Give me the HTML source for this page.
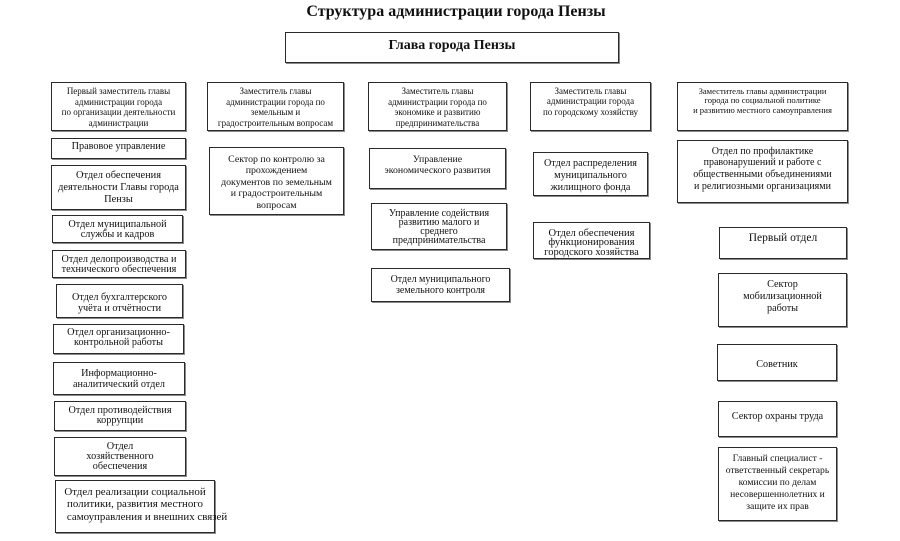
<!DOCTYPE html>
<html><head><meta charset="utf-8">
<style>
html,body{margin:0;padding:0;background:#fff;}
body{width:900px;height:541px;position:relative;overflow:hidden;font-family:"Liberation Serif","DejaVu Serif",serif;color:#111;}
.b{position:absolute;box-sizing:border-box;border:1px solid #2a2a2a;box-shadow:1px 1px 0 #8a8a8a;text-align:center;white-space:nowrap;font-size:10.2px;}
.t{position:absolute;white-space:nowrap;font-weight:bold;text-align:center;}
</style></head><body>

<div class="t" style="left:256px;top:2px;width:400px;font-size:16px;line-height:20px;">Структура администрации города Пензы</div>

<div class="b" style="left:285px;top:32px;width:334px;height:31px;"></div>
<div class="t" style="left:285px;top:38px;width:334px;font-size:14px;line-height:16px;">Глава города Пензы</div>

<!-- deputies -->
<div class="b" style="left:51px;top:82px;width:135px;height:49px;font-size:9px;line-height:10.7px;padding-top:3px;">Первый заместитель главы<br>администрации города<br>по организации деятельности<br>администрации</div>
<div class="b" style="left:207px;top:82px;width:137px;height:49px;font-size:9px;line-height:10.7px;padding-top:3px;">Заместитель главы<br>администрации города по<br>земельным и<br>градостроительным вопросам</div>
<div class="b" style="left:368px;top:82px;width:139px;height:49px;font-size:9px;line-height:10.7px;padding-top:3px;">Заместитель главы<br>администрации города по<br>экономике и развитию<br>предпринимательства</div>
<div class="b" style="left:530px;top:82px;width:121px;height:49px;font-size:9px;line-height:10.3px;padding-top:3px;">Заместитель главы<br>администрации города<br>по городскому хозяйству</div>
<div class="b" style="left:677px;top:82px;width:171px;height:49px;font-size:8.6px;line-height:9.7px;padding-top:3.5px;">Заместитель главы администрации<br>города по социальной политике<br>и развитию местного самоуправления</div>

<!-- column 1 -->
<div class="b" style="left:51px;top:138px;width:135px;height:21px;line-height:11px;padding-top:1.5px;">Правовое управление</div>
<div class="b" style="left:51px;top:165px;width:135px;height:45px;font-size:10.4px;line-height:12px;padding-top:4px;">Отдел обеспечения<br>деятельности Главы города<br>Пензы</div>
<div class="b" style="left:52px;top:215px;width:131px;height:28px;line-height:9.5px;padding-top:4px;">Отдел муниципальной<br>службы и кадров</div>
<div class="b" style="left:52px;top:250px;width:134px;height:28px;line-height:9.5px;padding-top:4px;">Отдел делопроизводства и<br>технического обеспечения</div>
<div class="b" style="left:56px;top:284px;width:127px;height:34px;line-height:11px;padding-top:6.5px;">Отдел бухгалтерского<br>учёта и отчётности</div>
<div class="b" style="left:53px;top:324px;width:131px;height:30px;line-height:10px;padding-top:3px;">Отдел организационно-<br>контрольной работы</div>
<div class="b" style="left:53px;top:362px;width:132px;height:33px;line-height:11px;padding-top:4.5px;">Информационно-<br>аналитический отдел</div>
<div class="b" style="left:54px;top:401px;width:132px;height:30px;line-height:9.5px;padding-top:4px;">Отдел противодействия<br>коррупции</div>
<div class="b" style="left:54px;top:437px;width:132px;height:39px;line-height:9.8px;padding-top:4px;">Отдел<br>хозяйственного<br>обеспечения</div>
<div class="b" style="left:55px;top:480px;width:160px;height:53px;font-size:10.9px;line-height:12.5px;padding-top:4.5px;">Отдел реализации социальной<br>политики, развития местного<br>&nbsp;&nbsp;&nbsp;&nbsp;самоуправления и внешних связей</div>

<!-- column 2 -->
<div class="b" style="left:209px;top:147px;width:135px;height:68px;font-size:9.9px;line-height:11.5px;padding-top:5.5px;">Сектор по контролю за<br>прохождением<br>документов по земельным<br>и градостроительным<br>вопросам</div>

<!-- column 3 -->
<div class="b" style="left:369px;top:148px;width:137px;height:41px;font-size:9.8px;line-height:11px;padding-top:5px;">Управление<br>экономического развития</div>
<div class="b" style="left:371px;top:203px;width:136px;height:47px;font-size:10px;line-height:9px;padding-top:5px;">Управление содействия<br>развитию малого и<br>среднего<br>предпринимательства</div>
<div class="b" style="left:371px;top:268px;width:139px;height:34px;font-size:10px;line-height:11px;padding-top:5px;">Отдел муниципального<br>земельного контроля</div>

<!-- column 4 -->
<div class="b" style="left:533px;top:152px;width:115px;height:44px;line-height:12px;padding-top:4.5px;">Отдел распределения<br>муниципального<br>жилищного фонда</div>
<div class="b" style="left:533px;top:222px;width:117px;height:37px;font-size:10.5px;line-height:9.5px;padding-top:5.5px;">Отдел обеспечения<br>функционирования<br>городского хозяйства</div>

<!-- column 5 -->
<div class="b" style="left:677px;top:140px;width:171px;height:63px;font-size:10px;line-height:11.7px;padding-top:4.5px;">Отдел по профилактике<br>правонарушений и работе с<br>общественными объединениями<br>и религиозными организациями</div>
<div class="b" style="left:719px;top:227px;width:128px;height:32px;font-size:11.5px;line-height:12px;padding-top:4px;">Первый отдел</div>
<div class="b" style="left:718px;top:273px;width:129px;height:54px;line-height:12px;padding-top:4.5px;">Сектор<br>мобилизационной<br>работы</div>
<div class="b" style="left:717px;top:344px;width:120px;height:37px;line-height:12px;padding-top:13.5px;">Советник</div>
<div class="b" style="left:718px;top:401px;width:119px;height:36px;line-height:12px;padding-top:8.5px;">Сектор охраны труда</div>
<div class="b" style="left:718px;top:447px;width:119px;height:74px;font-size:9.6px;line-height:12px;padding-top:4.5px;">Главный специалист -<br>ответственный секретарь<br>комиссии по делам<br>несовершеннолетних и<br>защите их прав</div>

</body></html>
